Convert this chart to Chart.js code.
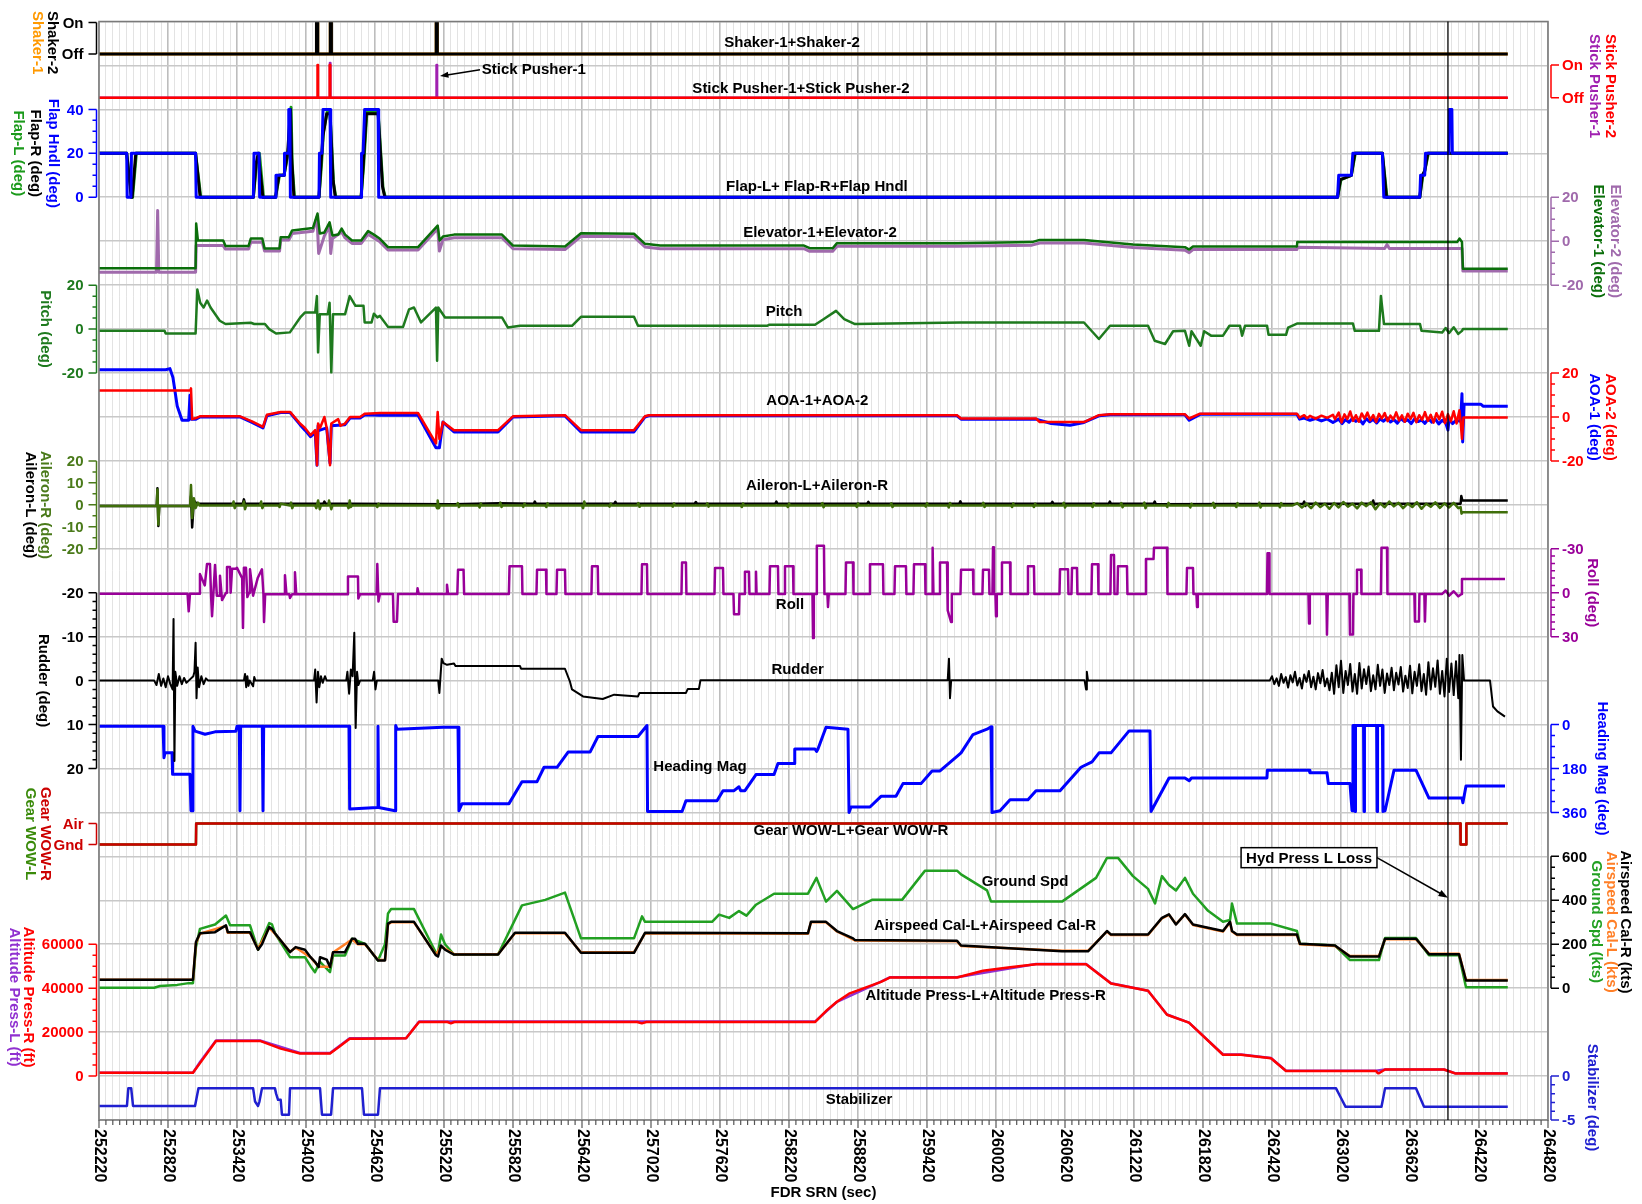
<!DOCTYPE html>
<html>
<head>
<meta charset="utf-8">
<title>FDR SRN</title>
<script src="https://cdn.jsdelivr.net/npm/chart.js@4.4.1/dist/chart.umd.min.js"></script>
<style>
  html, body { margin: 0; padding: 0; background: #fff; }
  #wrap { width: 1642px; height: 1204px; position: relative; }
</style>
</head>
<body>
<div id="wrap"><canvas id="fdr"></canvas></div>
<script>
// x values are FDR SRN seconds
const X_MIN = 252220, X_MAX = 264820
const markerSec = 263950

const shaker2 = [[252220,0],[254111,0],[254111,1],[254122,1],[254122,0],[254231,0],[254231,1],[254241,1],[254241,0],[255152,0],[255152,1],[255162,1],[255162,0],[264470,0]]
const shaker1 = [[252220,0],[254111,0],[254111,1],[254122,1],[254122,0],[254231,0],[254231,1],[254241,1],[254241,0],[255152,0],[255152,1],[255162,1],[255162,0],[264470,0]]
const stickPusher2 = [[252220,0],[254120,0],[254120,1],[254125,1],[254125,0],[254226,0],[254226,1],[254231,1],[254231,0],[264470,0]]
const stickPusher1 = [[252220,0],[254228,0],[254228,1.06],[254232,1.06],[254232,0],[255155,0],[255155,1],[255160,1],[255160,0],[264470,0]]

const flapHndl = [[252220,20],[252461,20],[252465,0],[252498,0],[252502,20],[253060,20],[253065,0],[253562,0],[253568,20],[253611,20],[253617,0],[253755,0],[253759,10],[253829,10],[253833,20],[253866,20],[253870,40],[253880,40],[253884,0],[254133,0],[254137,20],[254159,20],[254168,40],[254229,40],[254235,0],[254499,0],[254503,20],[254516,20],[254530,40],[254647,40],[254652,0],[262990,0],[263000,10],[263110,10],[263123,20],[263380,20],[263392,0],[263705,0],[263712,10],[263748,10],[263755,20],[263958,20],[263962,40],[263984,40],[263988,20],[264470,20]]
const flapR = [[252220,20],[252461,20],[252500,0],[252508,0],[252540,20],[253060,20],[253100,0],[253562,0],[253585,15],[253605,20],[253611,20],[253645,0],[253755,0],[253785,10],[253829,10],[253860,20],[253870,28],[253885,40],[253895,18],[253915,0],[254133,0],[254150,15],[254168,28],[254200,38],[254229,38],[254255,8],[254275,0],[254499,0],[254518,15],[254545,38],[254647,38],[254685,5],[254705,0],[262990,0],[263015,8],[263110,10],[263140,20],[263380,20],[263415,0],[263705,0],[263728,10],[263748,12],[263775,20],[264470,20]]
const flapL = [[252220,20],[252461,20],[252505,0],[252512,0],[252545,20],[253060,20],[253105,0],[253562,0],[253590,15],[253610,20],[253615,20],[253650,0],[253755,0],[253790,10],[253829,10],[253865,20],[253875,30],[253890,41],[253900,15],[253920,0],[254133,0],[254155,15],[254172,30],[254205,39],[254229,39],[254260,6],[254280,0],[254499,0],[254522,15],[254550,39],[254647,39],[254690,4],[254710,0],[262990,0],[263020,8],[263110,10],[263145,20],[263380,20],[263420,0],[263705,0],[263732,10],[263748,12],[263780,20],[264470,20]]

const elevator1 = [[252220,-12.3],[253060,-12.3],[253065,8],[253080,0.3],[253300,0.3],[253320,-2.2],[253520,-2.2],[253540,1.2],[253640,1.2],[253660,-3.3],[253790,-3.3],[253800,1.8],[253870,1.8],[253900,4.9],[254080,6],[254120,12.6],[254140,3.5],[254180,4],[254225,8.6],[254250,2.6],[254300,3],[254330,5.7],[254360,3],[254420,0.3],[254500,0.3],[254560,4.6],[254610,3],[254663,1.1],[254733,-2.7],[254994,-2.7],[255165,7.1],[255182,0.3],[255211,2.1],[255307,3],[255724,3],[255820,-2],[256272,-2.4],[256411,3.6],[256872,3.4],[256968,-1.2],[257100,-2],[258350,-2],[258400,-3.2],[258600,-3.2],[258637,-0.9],[259681,-0.9],[260333,-0.4],[260400,0.6],[260785,0.6],[261211,-1.5],[261663,-2.7],[261700,-3.8],[261733,-2.4],[262637,-2.4],[262640,-0.4],[264030,-0.4],[264050,1.2],[264072,-0.4],[264080,-12.5],[264470,-12.5]]
const elevator2 = [[252220,-14.1],[252720,-14.1],[252730,14],[252740,-14.1],[253060,-14.1],[253065,-2],[253300,-2],[253320,-3.6],[253520,-3.6],[253540,-0.5],[253640,-0.5],[253660,-4.5],[253790,-4.5],[253800,0.5],[253870,0.5],[253900,3.5],[254080,4.5],[254115,11],[254130,-5.6],[254180,2.5],[254225,7],[254235,-5.6],[254250,1.2],[254330,4.2],[254360,1.5],[254420,-1],[254500,-1],[254560,3.2],[254610,1.5],[254663,-0.3],[254733,-4],[254994,-4],[255165,5.7],[255180,-4.5],[255211,0.7],[255307,1.6],[255724,1.6],[255820,-3.4],[256272,-3.8],[256411,2.2],[256872,2],[256968,-2.6],[257100,-3.4],[258350,-3.4],[258400,-4.6],[258600,-4.6],[258637,-2.3],[259681,-2.3],[260333,-1.8],[260400,-0.8],[260785,-0.8],[261211,-2.9],[261663,-4.1],[261700,-5.2],[261733,-3.8],[262637,-3.8],[262640,-2.8],[263400,-3.3],[263420,-1.5],[263440,-3.3],[264072,-3.3],[264080,-13.6],[264470,-13.6]]

const pitch = [[252220,-0.8],[252790,-0.8],[252800,-2],[253060,-2],[253075,18],[253100,12],[253130,9.8],[253160,13],[253190,9.8],[253270,3.8],[253320,2.3],[253540,2.9],[253570,2.3],[253663,2.3],[253700,0],[253760,-2],[253880,-1.5],[253970,5.3],[254010,7.5],[254100,7.5],[254115,15],[254125,-10.6],[254140,6.8],[254210,6.8],[254225,12],[254240,-19.7],[254255,6.8],[254360,6.8],[254400,15],[254450,10.6],[254520,10.6],[254530,3],[254590,3],[254610,7],[254640,5.3],[254663,6],[254733,1],[254864,1],[254916,9],[254959,9.8],[255020,3],[255150,9.8],[255160,-14.4],[255170,9.8],[255229,5.3],[255724,5.3],[255776,0.7],[255881,1.5],[256333,1.5],[256411,5.6],[256872,5.6],[256907,1.5],[258029,1.5],[258050,2],[258446,2],[258520,4.5],[258629,8.3],[258700,4.5],[258794,2.3],[259716,3],[260785,3],[260915,-4.5],[261012,1.5],[261342,1.5],[261400,-5.3],[261490,-6.8],[261560,-1],[261663,-0.8],[261700,-7.6],[261720,-1],[261800,-7.6],[261830,-1],[261890,-3],[261994,-3],[262050,1.5],[262142,1.5],[262160,-3],[262185,1.5],[262377,1.5],[262390,-2.6],[262542,-2.6],[262560,0.7],[262637,2.5],[263124,2.5],[263140,-0.8],[263350,-0.8],[263367,15.1],[263394,2.3],[263707,2.3],[263720,-0.8],[263900,-1.6],[263930,0.5],[263960,-1.8],[264000,0.8],[264040,-2.2],[264072,-0.8],[264080,0],[264470,0]]

const aoa2 = [[252220,12.1],[253015,12.1],[253020,13],[253030,-1],[253063,-0.5],[253098,0.3],[253446,0.3],[253550,-2],[253646,-4.5],[253680,1],[253800,2.3],[253881,2.3],[253968,-3],[254011,-5],[254060,-8.3],[254100,-6],[254116,-22],[254125,-3],[254142,-5],[254180,0],[254200,-5],[254229,-22],[254240,-3],[254300,-1],[254320,-4],[254359,-3],[254403,0],[254490,0],[254533,1.5],[254663,1.8],[254994,1.8],[255150,-12],[255165,2.3],[255180,-10],[255211,-2.3],[255307,-6],[255690,-6],[255820,0.3],[256272,0.8],[256411,-6],[256872,-6],[256968,0.3],[257000,0.8],[259681,0.8],[259716,-0.7],[260368,-0.7],[260400,-2.3],[260785,-2.3],[260915,0.8],[261012,1.2],[261663,1.2],[261700,-0.7],[261794,1.5],[262637,1.5],[262660,-0.3],[262700,0.8],[262725,-0.6],[262750,0.5],[262800,-0.8],[262850,0.6],[262900,-0.4],[262950,1],[262968,-1],[263000,2],[263025,-2.5],[263050,1.2],[263075,-1],[263100,2.5],[263125,-1.8],[263150,0.8],[263175,-2.2],[263200,1.6],[263225,-0.8],[263250,2],[263275,-1.5],[263300,0.9],[263325,-2.3],[263350,1.4],[263375,-0.7],[263400,1.8],[263425,-1.9],[263450,0.6],[263475,-1.2],[263500,2.1],[263525,-1.6],[263550,0.7],[263575,-2.2],[263600,1.5],[263625,-0.9],[263650,1.9],[263675,-2.4],[263700,0.8],[263725,-1.3],[263750,2.2],[263775,-1.8],[263800,1],[263825,-2.6],[263850,1.7],[263875,-1.1],[263900,2.4],[263925,-2.8],[263950,1.3],[263975,-2],[264000,2.6],[264025,-3],[264050,3],[264060,-2],[264072,-10],[264085,-0.3],[264470,-0.3]]
const aoa1 = [[252220,21.5],[252800,21.5],[252837,22],[252863,18],[252900,5],[252942,-1.5],[253000,-1.5],[253011,9.9],[253020,-1],[253063,-1],[253098,0],[253446,0],[253550,-2.5],[253646,-5],[253680,0.5],[253800,2],[253881,2],[253968,-3.5],[254011,-6],[254060,-9],[254100,-7],[254116,-22],[254125,-4],[254142,-6],[254200,-5],[254229,-21],[254240,-4],[254359,-3.5],[254403,-0.5],[254490,-0.5],[254533,1],[254663,0.8],[254994,0.8],[255150,-14],[255180,-14],[255211,-2.3],[255307,-6.8],[255690,-6.8],[255820,0],[256272,0.5],[256411,-6.8],[256872,-6.8],[256968,0],[257000,0.5],[259681,0.5],[259716,-1],[260368,-1],[260500,-3],[260664,-3.8],[260785,-2.5],[260915,0.5],[261012,1],[261663,1],[261700,-1.5],[261794,1.2],[262637,1.2],[262660,-1],[262700,-0.5],[262750,-1.5],[262800,-0.7],[262850,-1.8],[262900,-0.9],[262950,-2.5],[263000,-1],[263030,-3],[263060,-1.2],[263090,-2.4],[263120,-0.6],[263150,-2],[263180,-1],[263210,-3.2],[263240,-0.8],[263270,-2.2],[263300,-1.1],[263330,-2.7],[263360,-0.9],[263390,-1.9],[263420,-0.5],[263450,-2.3],[263480,-1.2],[263510,-2.8],[263540,-0.7],[263570,-2],[263600,-1.3],[263630,-3],[263660,-0.9],[263690,-2.1],[263720,-1.4],[263750,-2.9],[263780,-0.8],[263810,-2.4],[263840,-1],[263870,-3.2],[263900,-1.5],[263930,-2.6],[263950,-6],[263960,-1],[263990,-3],[264020,-1.5],[264060,-2],[264072,10.6],[264078,-11.4],[264090,5.8],[264237,5.8],[264255,4.9],[264470,4.9]]

const aileronR = [[252220,-0.5],[252722,-0.5],[252728,7],[252736,-9],[252744,-0.5],[253012,-0.5],[253020,9],[253030,-6],[253045,3],[253060,-1.5],[253080,1],[253095,-0.3],[253380,-0.3],[253390,1.5],[253400,-1.5],[253410,-0.3],[253470,-0.3],[253480,1.5],[253490,-2],[253500,-0.3],[253620,-0.3],[253630,1.5],[253640,-1.5],[253650,-0.3],[253780,-0.3],[253790,-1],[253800,0.5],[253880,-0.3],[253890,1],[253900,-1.5],[253910,-0.3],[254100,-0.3],[254110,-1.5],[254125,2],[254140,-2],[254150,-0.3],[254215,-0.3],[254220,2],[254240,-2],[254250,-0.3],[254380,-0.3],[254390,-1.5],[254400,2],[254410,-1],[254420,-0.3],[254630,-0.3],[254640,-1],[254650,0.5],[254660,-0.3],[255150,-0.3],[255160,-1.5],[255165,2],[255175,-1.5],[255185,-0.3],[255330,-0.3],[255340,0.8],[255350,-1],[255360,-0.3],[255520,-0.3],[255530,-1.2],[255540,0.6],[255550,-0.3],[255700,-0.3],[255710,1],[255720,-1],[255730,-0.3],[255900,-0.3],[255910,-0.9],[255920,0.5],[255930,-0.3],[256100,-0.3],[256110,-1],[256120,0.7],[256130,-0.3],[256420,-0.3],[256430,-1.5],[256440,1.5],[256450,-0.3],[256650,-0.3],[256660,-0.8],[256670,0.5],[256680,-0.3],[256900,-0.3],[256910,0.8],[256920,-0.9],[256930,-0.3],[257200,-0.3],[257210,-0.8],[257220,0.6],[257230,-0.3],[257500,-0.3],[257510,0.7],[257520,-0.8],[257530,-0.3],[257800,-0.3],[257810,-1],[257820,0.6],[257830,-0.3],[258200,-0.3],[258210,-1],[258220,0.5],[258230,-0.3],[258500,-0.3],[258510,0.8],[258520,-1.1],[258530,-0.3],[258800,-0.3],[258810,-0.9],[258820,0.6],[258830,-0.3],[259100,-0.3],[259110,0.7],[259120,-1],[259130,-0.3],[259400,-0.3],[259410,-0.8],[259420,0.7],[259430,-0.3],[259600,-0.3],[259610,-1.2],[259620,0.8],[259630,-0.3],[259900,-0.3],[259910,0.9],[259920,-1],[259930,-0.3],[260150,-0.3],[260160,-1],[260170,0.6],[260180,-0.3],[260340,-0.3],[260350,-1],[260360,0.5],[260370,-0.3],[260600,-0.3],[260610,0.9],[260620,-1.2],[260630,-0.3],[260850,-0.3],[260860,-1],[260870,0.7],[260880,-0.3],[261100,-0.3],[261110,0.8],[261120,-1.1],[261130,-0.3],[261300,-0.3],[261310,1],[261320,-1.5],[261330,-0.3],[261500,-0.3],[261510,-1],[261520,0.9],[261530,-0.3],[261700,-0.3],[261710,-1.2],[261720,0.5],[261730,-0.3],[261900,-0.3],[261910,0.9],[261920,-1.3],[261930,-0.3],[262100,-0.3],[262110,-1],[262120,0.8],[262130,-0.3],[262300,-0.3],[262310,1],[262320,-1.2],[262330,-0.3],[262480,-0.3],[262490,-1.1],[262500,0.8],[262510,-0.3],[262600,-0.3],[262640,0.8],[262680,-1.2],[262720,0.6],[262760,-1.5],[262800,1],[262840,-1],[262880,0.5],[262920,-1.8],[262960,0.8],[263000,-1.2],[263040,1.3],[263080,-0.8],[263120,0.5],[263160,-1.6],[263200,1],[263240,-0.6],[263280,1.2],[263320,-2],[263360,0.7],[263400,-1.1],[263440,1.5],[263480,-0.7],[263520,0.9],[263560,-1.5],[263600,0.6],[263640,-1],[263680,1.2],[263720,-1.8],[263760,0.5],[263800,-0.9],[263840,1.1],[263880,-1.4],[263920,0.7],[263960,-1.2],[264000,0.9],[264040,-1.5],[264060,-1],[264068,-4],[264075,-3.4],[264470,-3.4]]
const aileronL = [[252220,-0.5],[252722,-0.5],[252728,7.5],[252736,-9.6],[252744,-0.5],[253012,-0.5],[253020,4],[253030,-10.3],[253045,2],[253060,1],[253080,0.5],[253470,0.5],[253480,2.5],[253490,0.5],[253630,0.5],[253640,-1],[253650,0.5],[254170,0.5],[254180,1.5],[254190,0.5],[254390,0.5],[254400,-1],[254410,0.5],[255300,0.3],[255700,0.7],[256000,0.5],[256010,1.5],[256020,0.5],[256700,0.5],[256710,1.4],[256720,0.5],[257400,0.5],[257410,1.3],[257420,0.5],[258100,0.5],[258110,1.5],[258120,0.5],[258900,0.5],[258910,1.4],[258920,0.5],[259700,0.5],[259710,1.6],[259720,0.5],[260500,0.5],[260510,1.4],[260520,0.5],[261000,0.5],[261010,1.5],[261020,0.5],[261390,0.5],[261400,1.5],[261410,0.3],[262690,0.5],[262700,1.5],[262710,-0.5],[262720,0.5],[263290,0.5],[263300,2],[263310,0],[263320,0.5],[264060,0.5],[264066,4],[264075,2],[264470,2]]

const roll = [[252220,0.7],[252990,0.7],[253000,12.7],[253011,0.7],[253090,0.7],[253098,-12.7],[253140,-5],[253159,-19.6],[253185,-19.6],[253195,3],[253203,16],[253215,0],[253229,-19],[253245,2],[253265,2],[253272,-11.6],[253290,5],[253325,0],[253333,-17.5],[253359,-17.5],[253365,0],[253377,-16.4],[253411,-16.4],[253420,-17],[253465,-10],[253472,24],[253480,-17],[253498,-17],[253510,3],[253525,0],[253533,-16],[253560,2],[253600,-10],[253637,-16],[253650,1],[253655,20],[253665,1],[253830,1],[253837,-12],[253850,1],[253875,1],[253881,3.6],[253900,1],[253918,1],[253924,-14],[253935,1],[254378,1],[254385,-11],[254472,-11],[254475,4],[254490,1],[254634,1],[254640,-19.6],[254650,6],[254663,0.8],[254776,0.8],[254782,19.8],[254811,19.8],[254820,0.8],[254985,0.8],[254990,-3],[255000,0.8],[255240,0.8],[255246,-5.5],[255255,0.8],[255336,0.8],[255342,-15.6],[255390,-15.6],[255395,0.8],[255784,0.8],[255790,-18],[255898,-18],[255902,0.8],[256024,0.8],[256029,-15.6],[256107,-15.6],[256111,0.8],[256198,0.8],[256203,-15.6],[256272,-15.6],[256276,0.8],[256502,0.8],[256507,-18],[256557,-18],[256561,0.8],[256937,0.8],[256942,-19.4],[256985,-19.4],[256989,0.8],[257285,0.8],[257290,-20.6],[257324,-20.6],[257328,0.8],[257572,0.8],[257577,-16.8],[257646,-16.8],[257650,0.8],[257737,0.8],[257742,14.7],[257785,14.7],[257789,0.8],[257832,0.8],[257837,-14.4],[257872,-14.4],[257876,0.8],[257928,0.8],[257933,-14.4],[257938,0.8],[258050,0.8],[258055,-18],[258124,-18],[258128,0.8],[258180,0.8],[258185,-18],[258255,-18],[258259,0.8],[258424,0.8],[258429,31],[258436,0.8],[258457,0.8],[258462,-32],[258524,-32],[258528,0.8],[258554,0.8],[258559,9.7],[258566,0.8],[258711,0.8],[258716,-20.6],[258777,-20.6],[258781,0.8],[258919,0.8],[258924,-19.4],[259037,-19.4],[259041,0.8],[259137,0.8],[259142,-18],[259237,-18],[259241,0.8],[259302,0.8],[259307,-19.4],[259403,-19.4],[259407,0.8],[259464,0.8],[259469,-30.7],[259476,0.8],[259528,0.8],[259533,-20.6],[259594,-20.6],[259600,12],[259629,20],[259636,0.8],[259711,0.8],[259716,-15.6],[259820,-15.6],[259824,0.8],[259902,0.8],[259907,-15.6],[259959,-15.6],[259963,0.8],[259989,0.8],[259994,-31],[260002,0.8],[260015,0.8],[260020,16],[260027,0.8],[260067,0.8],[260072,-20.6],[260142,-20.6],[260146,0.8],[260293,0.8],[260298,-18],[260350,-18],[260354,0.8],[260572,0.8],[260577,-16],[260646,-16],[260650,0.8],[260676,0.8],[260681,-16.8],[260724,-16.8],[260728,0.8],[260850,0.8],[260855,-19.4],[260907,-19.4],[260911,0.8],[261015,0.8],[261020,-25.7],[261046,-25.7],[261050,0.8],[261076,0.8],[261081,-18],[261159,-18],[261163,0.8],[261319,0.8],[261324,-23],[261390,-23],[261394,-30.7],[261507,-30.7],[261511,0.8],[261676,0.8],[261681,-16.8],[261733,-16.8],[261737,0.8],[261763,0.8],[261768,9.7],[261775,0.8],[262376,0.8],[262381,-27],[262394,-27],[262398,0.8],[262737,0.8],[262742,21],[262749,0.8],[262893,0.8],[262898,28.6],[262905,0.8],[263093,0.8],[263098,28.6],[263124,28.6],[263128,0.8],[263154,0.8],[263159,-15.6],[263194,-15.6],[263198,0.8],[263367,0.8],[263372,-30.7],[263420,-30.7],[263424,0.8],[263658,0.8],[263663,19.6],[263698,19.6],[263702,0.8],[263745,0.8],[263750,19.6],[263757,0.8],[263900,0.8],[263930,-1.5],[263960,2],[264000,-1],[264040,2.5],[264068,0.8],[264072,-9.3],[264446,-9.3]]

const rudder = [[252220,0],[252700,0],[252720,1],[252740,-1.5],[252760,1.2],[252780,-0.5],[252800,1.5],[252820,-1],[252840,0.8],[252860,2],[252868,-14],[252876,18.3],[252884,-2],[252900,1.2],[252920,-1],[252940,0.8],[252960,-0.6],[252980,0.5],[253000,0],[253040,-1],[253050,-2],[253060,-8.6],[253068,4],[253078,-3],[253090,1.5],[253110,-1],[253130,0.8],[253150,-0.5],[253170,0],[253480,0],[253490,-1.5],[253500,1.5],[253510,-1],[253520,1.2],[253530,0],[253560,1.3],[253570,-0.8],[253580,0],[254090,0],[254100,-2.5],[254112,5],[254124,-2],[254136,1.5],[254150,-1],[254165,0.5],[254185,-1],[254200,0],[254370,0],[254380,-2],[254395,3],[254410,-2.5],[254425,-1],[254440,-10.9],[254452,10.8],[254464,-2],[254476,1],[254490,0],[254600,0],[254612,-2],[254624,2],[254636,0],[255170,0],[255180,2.8],[255200,-5],[255215,-4],[255246,-3.6],[255307,-3.9],[255320,-3.3],[255881,-3.3],[255890,-2.7],[256272,-2.7],[256316,0.3],[256333,2],[256429,3.6],[256600,4.2],[256700,3.2],[256907,3.6],[256920,2.8],[257324,2.8],[257340,1.9],[257437,1.9],[257450,-0.1],[259600,-0.1],[259611,-5],[259620,4],[259630,-0.1],[260790,-0.1],[260803,2],[260810,-2],[260820,0],[262400,0],[262420,-1],[262440,0.8],[262460,-0.5],[262480,1.2],[262500,-1.5],[262520,0.5],[262540,-0.8],[262560,1.6],[262580,-1.2],[262600,0.4],[262620,-2],[262640,1.1],[262660,-0.6],[262680,1.8],[262700,-1.4],[262720,0.3],[262740,-2.2],[262760,1.5],[262780,-0.9],[262800,2],[262820,-1.7],[262840,0.6],[262860,-2.4],[262880,1.3],[262900,-0.5],[262920,2.2],[262940,-1.8],[262960,3],[262980,-3.5],[263000,1.5],[263020,-4.5],[263040,2.8],[263060,-2.2],[263080,1],[263100,-3.8],[263120,2.5],[263140,-1.5],[263160,3],[263180,-4],[263200,1.8],[263220,-2.6],[263240,0.8],[263260,-3.2],[263280,2.4],[263300,-1.2],[263320,2],[263340,-3.6],[263360,1.2],[263380,-2.5],[263400,2.8],[263420,-1.6],[263440,1],[263460,-2.9],[263480,2.2],[263500,-1.8],[263520,0.9],[263540,-3.1],[263560,2.5],[263580,-1.1],[263600,1.7],[263620,-3.4],[263640,2.9],[263660,-2],[263680,1.2],[263700,-3.7],[263720,2.4],[263740,-1.5],[263760,3.2],[263780,-4.2],[263800,2],[263820,-2.8],[263840,1.4],[263860,-4.6],[263880,3],[263900,-2.2],[263920,3.6],[263940,-5],[263960,2.6],[263980,-3.9],[264000,3.3],[264020,-4.4],[264040,4],[264050,-5.8],[264063,18],[264075,-5.8],[264090,0],[264316,0],[264342,5.9],[264380,7],[264446,8.2]]

const headingMag = [[252220,7],[252777,7],[252785,136],[252794,116],[252855,116],[252860,204],[253011,204],[253020,353],[253029,353],[253037,7],[253055,27],[253142,40],[253229,30],[253411,27],[253420,7],[253440,7],[253446,353],[253452,7],[253640,7],[253646,353],[253652,7],[254394,7],[254400,346],[254640,340],[254646,7],[254652,340],[254794,353],[254800,4],[254811,19],[255211,11],[255342,11],[255350,353],[255377,324],[255785,324],[255898,234],[256029,234],[256090,175],[256203,175],[256299,113],[256490,113],[256559,49],[256907,49],[256985,4],[256990,356],[257290,356],[257324,312],[257594,312],[257646,271],[257742,271],[257785,255],[257800,271],[257837,271],[257933,205],[258090,205],[258124,160],[258264,160],[258270,100],[258446,100],[258460,110],[258472,100],[258542,11],[258733,19],[258742,360],[258759,338],[258924,338],[259020,294],[259150,294],[259211,242],[259368,242],[259464,190],[259533,190],[259681,130],[259716,116],[259820,41],[259942,19],[259977,9],[259985,360],[260055,353],[260142,308],[260298,308],[260368,271],[260577,271],[260759,175],[260855,153],[260916,116],[261020,116],[261177,26],[261359,26],[261368,356],[261525,219],[261663,219],[261700,230],[261720,219],[262376,219],[262380,187],[262742,187],[262750,197],[262898,197],[262910,242],[263098,242],[263116,353],[263124,4],[263138,4],[263142,356],[263146,4],[263216,4],[263220,356],[263224,4],[263330,4],[263334,356],[263338,4],[263380,4],[263385,356],[263403,353],[263481,187],[263672,187],[263785,301],[264072,301],[264080,320],[264107,252],[264446,252]]

const gearWowR = [[252220,0],[253063,0],[253065,1],[264058,1],[264060,0],[264108,0],[264110,1],[264470,1]]
const gearWowL = [[252220,0],[253063,0],[253065,1],[264058,1],[264060,0],[264108,0],[264110,1],[264470,1]]

const airspeedCalR = [[252220,38],[253037,38],[253063,210],[253098,250],[253229,255],[253324,286],[253340,255],[253533,255],[253603,175],[253637,200],[253700,278],[253724,270],[253750,250],[253881,164],[253930,187],[254011,175],[254060,141],[254098,120],[254130,96],[254142,141],[254200,130],[254229,96],[254255,164],[254359,164],[254420,225],[254446,225],[254472,202],[254533,202],[254646,126],[254707,126],[254733,294],[254760,302],[254959,302],[255150,150],[255168,144],[255194,194],[255229,175],[255307,153],[255690,153],[255837,252],[256272,252],[256411,161],[256872,161],[256968,252],[258385,250],[258411,302],[258542,302],[258637,260],[258777,227],[258794,219],[259681,216],[259716,194],[260594,168],[260820,168],[260985,260],[261020,244],[261342,244],[261463,320],[261524,336],[261585,290],[261663,337],[261733,290],[261994,260],[262055,302],[262072,260],[262116,244],[262637,244],[262663,202],[262968,194],[263098,144],[263350,144],[263403,225],[263672,225],[263785,155],[264046,155],[264107,35],[264470,35]]
const airspeedCalL = [[252220,38],[253037,38],[253063,205],[253098,248],[253324,283],[253340,252],[253533,252],[253603,178],[253700,275],[253750,248],[253881,166],[253930,185],[254060,140],[254130,98],[254229,98],[254255,162],[254420,222],[254472,200],[254533,200],[254646,128],[254707,128],[254733,290],[254760,300],[254959,300],[255150,152],[255194,190],[255307,155],[255690,155],[255837,250],[256272,250],[256411,163],[256872,163],[256968,250],[258385,248],[258411,300],[258542,300],[258637,258],[258794,217],[259681,214],[259716,192],[260594,170],[260820,170],[260985,258],[261020,242],[261342,242],[261463,318],[261524,334],[261585,292],[261663,335],[261733,288],[261994,258],[262055,300],[262072,258],[262116,242],[262637,242],[262663,200],[262968,192],[263098,146],[263350,146],[263403,223],[263672,223],[263785,157],[264046,157],[264107,37],[264470,37]]
const groundSpd = [[252220,2],[252700,2],[252750,10],[252900,15],[253000,23],[253037,23],[253063,187],[253098,270],[253229,290],[253324,331],[253360,286],[253533,286],[253603,175],[253637,220],[253700,296],[253724,290],[253750,250],[253881,141],[254011,141],[254060,100],[254098,73],[254142,120],[254229,73],[254255,149],[254359,149],[254420,225],[254446,220],[254533,202],[254646,126],[254707,200],[254733,340],[254760,360],[254959,360],[255150,161],[255168,161],[255194,244],[255229,200],[255307,153],[255690,153],[255898,377],[256100,402],[256272,435],[256411,227],[256585,227],[256872,227],[256942,327],[256968,302],[257551,302],[257612,335],[257700,320],[257785,351],[257850,330],[257933,380],[258090,430],[258385,430],[258459,502],[258542,394],[258637,443],[258777,360],[258942,402],[259203,402],[259403,535],[259681,535],[259716,518],[259942,445],[259977,394],[260594,394],[260890,502],[260985,593],[261081,593],[261211,510],[261342,452],[261403,386],[261463,510],[261524,470],[261585,445],[261663,502],[261733,430],[261864,352],[261994,302],[262055,310],[262072,385],[262116,294],[262411,294],[262637,260],[262663,202],[262968,194],[263098,128],[263350,128],[263403,228],[263672,228],[263785,150],[264046,150],[264107,4],[264470,4]]

const altitudeR = [[252220,1500],[253037,1500],[253100,6000],[253237,16000],[253620,16000],[253800,12500],[253968,10300],[254229,10300],[254300,13000],[254400,17000],[254490,17000],[254890,17200],[255003,24600],[255250,24600],[255280,24000],[255310,24600],[256900,24600],[256940,24000],[256980,24600],[258446,24600],[258550,30000],[258637,33800],[258742,37500],[259020,42900],[259100,44900],[259681,44900],[259907,47900],[260142,49500],[260368,50900],[260803,50900],[261020,42100],[261342,38800],[261507,27900],[261698,24300],[261994,9700],[262151,9700],[262411,8100],[262542,2300],[263325,2300],[263340,1300],[263350,1300],[263403,3000],[263916,3000],[264012,1200],[264470,1200]]
const altitudeL = [[252220,1500],[253037,1500],[253100,6500],[253237,16200],[253620,16200],[253968,10500],[254229,10500],[254400,17200],[254890,17200],[255003,24800],[258446,24800],[258637,33800],[259020,43000],[259100,45000],[259681,45000],[260368,51000],[260803,51000],[261020,42200],[261342,38800],[261507,28000],[261698,24300],[261994,9800],[262151,9800],[262411,8200],[262542,2400],[263325,2400],[263403,3000],[263916,3000],[264012,1300],[264470,1300]]

const stabilizer = [[252220,-3.4],[252463,-3.4],[252475,-1.4],[252500,-1.4],[252516,-3.4],[253055,-3.4],[253085,-1.4],[253560,-1.4],[253577,-2.9],[253603,-3.4],[253615,-2.9],[253637,-1.4],[253750,-1.4],[253760,-2],[253777,-2.7],[253800,-2.7],[253811,-4.4],[253872,-4.4],[253881,-1.4],[254142,-1.4],[254159,-4.4],[254238,-4.4],[254255,-1.4],[254507,-1.4],[254524,-4.4],[254646,-4.4],[254663,-1.4],[262977,-1.4],[263020,-2.5],[263060,-3.5],[263372,-3.5],[263403,-1.4],[263672,-1.4],[263742,-3.5],[264470,-3.5]]

// tick labels
const onOffTicks = [[1, 'On'], [0, 'Off']]
const gearTicks = [[1, 'Air'], [0, 'Gnd']]
const flapTicks = [40, 20, 0]
const elevTicks = [20, 0, -20]
const pitchTicks = [20, 0, -20]
const aoaTicks = [20, 0, -20]
const aileronTicks = [20, 10, 0, -10, -20]
const rollTicks = [-30, 0, 30]
const rudderTicks = [-20, -10, 0, 10, 20]
const headingTicks = [0, 180, 360]
const speedTicks = [600, 400, 200, 0]
const altTicks = [60000, 40000, 20000, 0]
const stabTicks = [0, -5]

// plot is split in 25 grid rows; each trace axis is pinned to rows
const ROWS = 25
function band(va, ra, vb, rb) {
  const k = (vb - va) / (rb - ra)
  const top = va - ra * k, bottom = va + (ROWS - ra) * k
  if (top > bottom) return { min: bottom, max: top, reverse: false }
  return { min: top, max: bottom, reverse: true }
}

const FONT = '"Liberation Sans", Arial, sans-serif'

const axisDefs = [
  { id: 'yShaker', side: 'left', color: '#000', b: band(1, 0.02, 0, 0.74), ticks: onOffTicks, titleRow: 0.48, titleGap: 47, titleStep: 14.5,
    titles: [['Shaker-2', '#000'], ['Shaker-1', '#ff9900']] },
  { id: 'yStick', side: 'right', color: '#ff0000', b: band(1, 0.99, 0, 1.735), ticks: onOffTicks, titleRow: 1.47, titleGap: 62, titleStep: 16,
    titles: [['Stick Pusher-2', '#ff0000'], ['Stick Pusher-1', '#a020b0']] },
  { id: 'yFlap', side: 'left', color: '#0000ff', b: band(40, 2, 0, 4), ticks: flapTicks, minor: 5, titleRow: 3, titleGap: 46, titleStep: 17.5,
    titles: [['Flap Hndl (deg)', '#0000ff'], ['Flap-R (deg)', '#000'], ['Flap-L (deg)', '#1a9a1a']] },
  { id: 'yElev', side: 'right', color: '#a06aac', b: band(20, 4, -20, 6), ticks: elevTicks, minor: 5, titleRow: 5, titleGap: 67, titleStep: 17,
    titles: [['Elevator-2 (deg)', '#a06aac'], ['Elevator-1 (deg)', '#0a6e0a']] },
  { id: 'yPitch', side: 'left', color: '#1e7a1e', b: band(20, 6, -20, 8), ticks: pitchTicks, minor: 5, titleRow: 7, titleGap: 54, titleStep: 15,
    titles: [['Pitch (deg)', '#1e7a1e']] },
  { id: 'yAoa', side: 'right', color: '#ff0000', b: band(20, 8, -20, 10), ticks: aoaTicks, minor: 5, titleRow: 9, titleGap: 62, titleStep: 16,
    titles: [['AOA-2 (deg)', '#ff0000'], ['AOA-1 (deg)', '#0000ff']] },
  { id: 'yAil', side: 'left', color: '#4a7a1a', b: band(20, 10, -20, 12), ticks: aileronTicks, minor: 5, titleRow: 11, titleGap: 54, titleStep: 15,
    titles: [['Aileron-R (deg)', '#4a7a1a'], ['Aileron-L (deg)', '#000']] },
  { id: 'yRoll', side: 'right', color: '#990099', b: band(-30, 12, 30, 14), ticks: rollTicks, minor: 5, titleRow: 13, titleGap: 44, titleStep: 15,
    titles: [['Roll (deg)', '#990099']] },
  { id: 'yRudder', side: 'left', color: '#000', b: band(-20, 13, 20, 17), ticks: rudderTicks, minor: 2, titleRow: 15, titleGap: 56, titleStep: 15,
    titles: [['Rudder (deg)', '#000']] },
  { id: 'yHdg', side: 'right', color: '#0000ff', b: band(0, 16, 360, 18), ticks: headingTicks, minor: 45, titleRow: 17, titleGap: 54, titleStep: 15,
    titles: [['Heading Mag (deg)', '#0000ff']] },
  { id: 'yGear', side: 'left', color: '#cc0000', b: band(1, 18.25, 0, 18.73), ticks: gearTicks, titleRow: 18.49, titleGap: 54, titleStep: 15,
    titles: [['Gear WOW-R', '#cc0000'], ['Gear WOW-L', '#3a8a0a']] },
  { id: 'ySpd', side: 'right', color: '#000', b: band(600, 19, 0, 22), ticks: speedTicks, minor: 50, titleRow: 20.49, titleGap: 77, titleStep: 14.3,
    titles: [['Airspeed Cal-R (kts)', '#000'], ['Airspeed Cal-L (kts)', '#ff7f27'], ['Ground Spd (kts)', '#22a022']] },
  { id: 'yAlt', side: 'left', color: '#ff0000', b: band(60000, 21, 0, 24), ticks: altTicks, minor: 5000, titleRow: 22.2, titleGap: 71, titleStep: 13.5,
    titles: [['Altitude Press-R (ft)', '#ff0000'], ['Altitude Press-L (ft)', '#9030d0']] },
  { id: 'yStab', side: 'right', color: '#2020d0', b: band(0, 24, -5, 25), ticks: stabTicks, minor: 1, titleRow: 24.49, titleGap: 44, titleStep: 15,
    titles: [['Stabilizer (deg)', '#2020d0']] }
]

// [text, sec, row]
const inlineLabels = [
  ['Shaker-1+Shaker-2', 258246, 0.48],
  ['Stick Pusher-1+Stick Pusher-2', 258324, 1.54],
  ['Flap-L+ Flap-R+Flap Hndl', 258463, 3.755],
  ['Elevator-1+Elevator-2', 258490, 4.81],
  ['Pitch', 258177, 6.6],
  ['AOA-1+AOA-2', 258467, 8.64],
  ['Aileron-L+Aileron-R', 258463, 10.57],
  ['Roll', 258229, 13.28],
  ['Rudder', 258295, 14.75],
  ['Heading Mag', 257446, 16.97],
  ['Gear WOW-L+Gear WOW-R', 258759, 18.43],
  ['Ground Spd', 260272, 19.57],
  ['Airspeed Cal-L+Airspeed Cal-R', 259924, 20.58],
  ['Altitude Press-L+Altitude Press-R', 259930, 22.18],
  ['Stabilizer', 258829, 24.54]
]

function line(label, data, color, yAxisID, width) {
  return { label, data, yAxisID, borderColor: color, backgroundColor: color,
    borderWidth: width || 2.5, pointRadius: 0, fill: false, tension: 0, borderJoinStyle: 'round' }
}

// first entry is drawn on top
const datasets = [
  line('Shaker-2', shaker2, '#000000', 'yShaker', 3),
  line('Shaker-1', shaker1, '#ff9900', 'yShaker', 3),
  line('Stick Pusher-2', stickPusher2, '#ff0000', 'yStick', 2.5),
  line('Stick Pusher-1', stickPusher1, '#a020b0', 'yStick', 2.5),
  line('Flap Hndl', flapHndl, '#0000ff', 'yFlap', 3),
  line('Flap-R', flapR, '#000000', 'yFlap', 3),
  line('Flap-L', flapL, '#1a9a1a', 'yFlap', 3),
  line('Elevator-1', elevator1, '#0a6e0a', 'yElev', 2.5),
  line('Elevator-2', elevator2, '#a06aac', 'yElev', 3),
  line('Pitch', pitch, '#1e7a1e', 'yPitch', 2.5),
  line('AOA-2', aoa2, '#ff0000', 'yAoa', 2.5),
  line('AOA-1', aoa1, '#0000ff', 'yAoa', 3),
  line('Aileron-R', aileronR, '#3f6e0a', 'yAil', 2.5),
  line('Aileron-L', aileronL, '#000000', 'yAil', 2.5),
  line('Roll', roll, '#990099', 'yRoll', 2.5),
  line('Rudder', rudder, '#000000', 'yRudder', 2),
  line('Heading Mag', headingMag, '#0000ff', 'yHdg', 3),
  line('Gear WOW-R', gearWowR, '#cc0000', 'yGear', 2.5),
  line('Gear WOW-L', gearWowL, '#3a8a0a', 'yGear', 2.5),
  line('Airspeed Cal-R', airspeedCalR, '#000000', 'ySpd', 2.5),
  line('Airspeed Cal-L', airspeedCalL, '#ff7f27', 'ySpd', 2.5),
  line('Ground Spd', groundSpd, '#22a022', 'ySpd', 2.5),
  line('Altitude Press-R', altitudeR, '#ff0000', 'yAlt', 2.5),
  line('Altitude Press-L', altitudeL, '#9030d0', 'yAlt', 2.5),
  line('Stabilizer', stabilizer, '#2020d0', 'yStab', 2.5)
]

const scales = {
  x: {
    type: 'linear', min: X_MIN, max: X_MAX,
    ticks: { display: false },
    border: { display: false },
    grid: {
      drawTicks: false,
      color: c => ((c.tick.value - X_MIN) % 600 === 0 ? '#bdbdbd' : '#e3e3e3'),
      lineWidth: c => ((c.tick.value - X_MIN) % 600 === 0 ? 1.6 : 1)
    },
    afterBuildTicks: s => {
      const t = []
      for (let v = X_MIN; v <= X_MAX; v += 60) t.push({ value: v })
      s.ticks = t
    }
  },
  yGrid: {
    axis: 'y', type: 'linear', position: 'left', min: 0, max: ROWS, reverse: true,
    ticks: { display: false },
    border: { display: false },
    grid: { drawTicks: false, color: '#c8c8c8', lineWidth: 1.6 },
    afterBuildTicks: s => {
      const t = []
      for (let r = 0; r <= ROWS; r++) t.push({ value: r })
      s.ticks = t
    }
  }
}
axisDefs.forEach(d => {
  scales[d.id] = { axis: 'y', type: 'linear', display: false, min: d.b.min, max: d.b.max, reverse: d.b.reverse }
})

function arrow(ctx, x1, y1, x2, y2, head) {
  const ang = Math.atan2(y2 - y1, x2 - x1)
  ctx.beginPath()
  ctx.moveTo(x1, y1)
  ctx.lineTo(x2 - Math.cos(ang) * head * 0.8, y2 - Math.sin(ang) * head * 0.8)
  ctx.stroke()
  ctx.beginPath()
  ctx.moveTo(x2, y2)
  ctx.lineTo(x2 - head * Math.cos(ang - 0.35), y2 - head * Math.sin(ang - 0.35))
  ctx.lineTo(x2 - head * Math.cos(ang + 0.35), y2 - head * Math.sin(ang + 0.35))
  ctx.closePath()
  ctx.fill()
}

function drawAxis(ctx, chart, d) {
  const a = chart.chartArea, s = chart.scales[d.id], rows = chart.scales.yGrid
  const left = d.side === 'left'
  const ax = left ? a.left - 2.5 : a.right + 3
  const dir = left ? -1 : 1
  const vals = d.ticks.map(t => (Array.isArray(t) ? t[0] : t))
  const ys = vals.map(v => s.getPixelForValue(v))
  ctx.strokeStyle = d.color
  ctx.fillStyle = d.color
  ctx.lineWidth = 1.5
  ctx.beginPath()
  ctx.moveTo(ax, Math.min(...ys))
  ctx.lineTo(ax, Math.max(...ys))
  ys.forEach(y => { ctx.moveTo(ax, y); ctx.lineTo(ax + dir * 8, y) })
  if (d.minor) {
    const lo = Math.min(...vals), hi = Math.max(...vals)
    for (let v = lo; v <= hi; v += d.minor) {
      if (vals.includes(v)) continue
      const y = s.getPixelForValue(v)
      ctx.moveTo(ax, y); ctx.lineTo(ax + dir * 4, y)
    }
  }
  ctx.stroke()
  ctx.font = 'bold 15px ' + FONT
  ctx.textAlign = left ? 'right' : 'left'
  ctx.textBaseline = 'middle'
  d.ticks.forEach((t, i) => {
    const txt = Array.isArray(t) ? t[1] : String(t)
    ctx.fillText(txt, ax + dir * (left ? 13 : 11), ys[i] + 1)
  })
  // rotated multi-colour titles
  const tx0 = left ? a.left - d.titleGap : a.right + d.titleGap
  const ty = rows.getPixelForValue(d.titleRow)
  ctx.textAlign = 'center'
  d.titles.forEach(([txt, col], i) => {
    ctx.save()
    ctx.translate(tx0 - i * d.titleStep, ty)
    ctx.rotate(Math.PI / 2)
    ctx.fillStyle = col
    ctx.fillText(txt, 0, 0)
    ctx.restore()
  })
}

const fdrDecor = {
  id: 'fdrDecor',
  afterDraw(chart) {
    const { ctx, chartArea: a, scales: sc } = chart
    const xs = sc.x, rows = sc.yGrid
    ctx.save()

    // frame
    ctx.strokeStyle = '#7a7a7a'
    ctx.lineWidth = 1.5
    ctx.strokeRect(a.left, a.top, a.right - a.left, a.bottom - a.top)

    // event marker
    const mx = xs.getPixelForValue(markerSec)
    ctx.strokeStyle = '#000'
    ctx.lineWidth = 1.3
    ctx.beginPath(); ctx.moveTo(mx, a.top); ctx.lineTo(mx, a.bottom); ctx.stroke()

    axisDefs.forEach(d => drawAxis(ctx, chart, d))

    // inline trace names
    ctx.fillStyle = '#000'
    ctx.font = 'bold 15px ' + FONT
    ctx.textAlign = 'center'
    ctx.textBaseline = 'middle'
    inlineLabels.forEach(([t, sx, r]) => ctx.fillText(t, xs.getPixelForValue(sx), rows.getPixelForValue(r)))

    // Stick Pusher-1 callout
    ctx.textAlign = 'left'
    ctx.fillText('Stick Pusher-1', xs.getPixelForValue(255548), rows.getPixelForValue(1.1))
    ctx.strokeStyle = '#000'
    ctx.lineWidth = 1.5
    arrow(ctx, xs.getPixelForValue(255533), rows.getPixelForValue(1.1), xs.getPixelForValue(255185), rows.getPixelForValue(1.24), 9)

    // Hyd Press L Loss callout
    const hx = xs.getPixelForValue(262742), hy = rows.getPixelForValue(19.03)
    const tw = ctx.measureText('Hyd Press L Loss').width
    ctx.fillStyle = '#fff'
    ctx.fillRect(hx - tw / 2 - 5, hy - 10, tw + 10, 20)
    ctx.strokeRect(hx - tw / 2 - 5, hy - 10, tw + 10, 20)
    ctx.fillStyle = '#000'
    ctx.textAlign = 'center'
    ctx.fillText('Hyd Press L Loss', hx, hy + 1)
    arrow(ctx, hx + tw / 2 + 5, hy, xs.getPixelForValue(markerSec), rows.getPixelForValue(19.94), 10)

    // x axis ticks and labels
    ctx.strokeStyle = '#555'
    ctx.lineWidth = 1.2
    ctx.beginPath()
    for (let v = X_MIN; v <= X_MAX; v += 60) {
      const x = xs.getPixelForValue(v)
      const major = (v - X_MIN) % 600 === 0
      ctx.moveTo(x, a.bottom); ctx.lineTo(x, a.bottom + (major ? 8 : 5))
    }
    ctx.stroke()
    ctx.font = 'bold 16px ' + FONT
    ctx.fillStyle = '#000'
    ctx.textAlign = 'left'
    for (let v = X_MIN; v <= X_MAX; v += 600) {
      ctx.save()
      ctx.translate(xs.getPixelForValue(v), a.bottom + 9)
      ctx.rotate(Math.PI / 2)
      ctx.fillText(String(v), 0, 0)
      ctx.restore()
    }
    ctx.font = 'bold 15px ' + FONT
    ctx.textAlign = 'center'
    ctx.fillText('FDR SRN (sec)', (a.left + a.right) / 2, a.bottom + 73)
    ctx.restore()
  }
}

new Chart(document.getElementById('fdr'), {
  type: 'line',
  data: { datasets },
  options: {
    responsive: true,
    maintainAspectRatio: false,
    animation: false,
    layout: { padding: { left: 99, right: 94, top: 21.5, bottom: 84 } },
    plugins: { legend: { display: false }, tooltip: { enabled: false } },
    elements: { point: { radius: 0 }, line: { tension: 0 } },
    scales
  },
  plugins: [fdrDecor]
})
</script>
</body>
</html>
